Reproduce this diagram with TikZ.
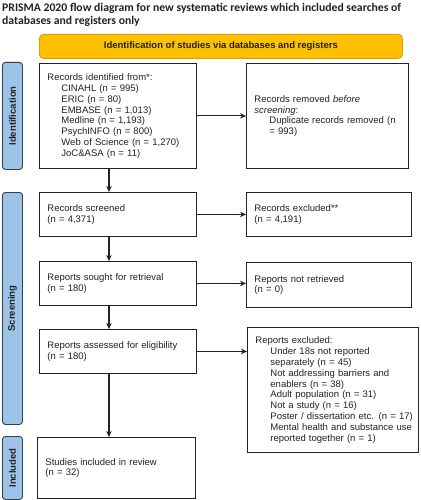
\documentclass[tikz,border=0pt]{standalone}
\usepackage{fontspec}
\setmainfont{Liberation Sans}
\newfontfamily\titlefont{Carlito}
\usetikzlibrary{arrows.meta,positioning}
\definecolor{banner}{HTML}{FFC000}
\definecolor{bannerline}{HTML}{D9A000}
\definecolor{sidefill}{HTML}{9DC3E6}
\definecolor{sideline}{HTML}{2E3F55}
\definecolor{ink}{HTML}{222222}
\tikzset{
  boxnode/.style={draw=ink, line width=0.9pt, fill=white, anchor=north west,
    inner xsep=8pt, inner ysep=0pt, align=left, text=ink,
    font=\fontsize{9.5}{10.8}\selectfont},
  sidebar/.style={draw=sideline, line width=0.9pt, fill=sidefill, rounded corners=3pt,
    anchor=north west, inner sep=0pt, minimum width=20pt},
  sidelabel/.style={rotate=90, font=\bfseries\fontsize{9.5}{11}\selectfont, text=ink},
  arr/.style={draw=ink, line width=1.1pt, -{Stealth[length=6pt,width=5.5pt]}},
}
\begin{document}
\begin{tikzpicture}[x=1pt,y=-1pt]
\useasboundingbox (0,0) rectangle (420,500);
% title
\node[anchor=north west, inner sep=0pt, align=left, text=ink,
  font=\titlefont\bfseries\fontsize{11.7}{12.8}\selectfont] (title) at (2,3.2)
  {PRISMA 2020 flow diagram for new systematic reviews which included searches of\\
   databases and registers only};
% banner
\node[draw=bannerline, fill=banner, line width=0.8pt, rounded corners=4pt, anchor=north west,
  minimum width=363pt, minimum height=24pt, inner sep=0pt, text=ink,
  font=\bfseries\fontsize{9.5}{11}\selectfont] (banner) at (39,34)
  {Identification of studies via databases and registers};
% side bars
\node[sidebar, minimum height=107pt] (sideid) at (2,62) {};
\node[sidelabel] (sideidt) at (sideid.center) {Identification};
\node[sidebar, minimum height=232pt] (sidescr) at (2,192) {};
\node[sidelabel] (sidescrt) at (sidescr.center) {Screening};
\node[sidebar, minimum height=63pt] (sideinc) at (2,436) {};
\node[sidelabel] (sideinct) at (sideinc.center) {Included};
% left column
\node[boxnode, text width=141pt, minimum height=105pt] (id1) at (39,63)
  {Records identified from*:\\
   \hspace*{14pt}CINAHL (n = 995)\\
   \hspace*{14pt}ERIC (n = 80)\\
   \hspace*{14pt}EMBASE (n = 1,013)\\
   \hspace*{14pt}Medline (n = 1,193)\\
   \hspace*{14pt}PsychINFO (n = 800)\\
   \hspace*{14pt}Web of Science (n = 1,270)\\
   \hspace*{14pt}JoC\&ASA (n = 11)};
\node[boxnode, text width=141pt, minimum height=44pt] (scr) at (39,192)
  {Records screened\\(n = 4,371)};
\node[boxnode, text width=141pt, minimum height=44pt] (sought) at (39,261)
  {Reports sought for retrieval\\(n = 180)};
\node[boxnode, text width=141pt, minimum height=44pt] (assess) at (39,329)
  {Reports assessed for eligibility\\(n = 180)};
\node[boxnode, text width=142pt, minimum height=61pt] (incl) at (37,437)
  {Studies included in review\\(n = 32)};
% right column
\node[boxnode, text width=146pt, minimum height=105pt] (rem) at (246,63)
  {Records removed \textit{before}\\
   \textit{screening}:\\
   \hspace*{15pt}\mbox{Duplicate records removed (n}\\
   \hspace*{15pt}= 993)};
\node[boxnode, text width=149pt, minimum height=44pt] (exc) at (246,192)
  {Records excluded**\\(n = 4,191)};
\node[boxnode, text width=149pt, minimum height=45pt] (notret) at (246,262)
  {Reports not retrieved\\(n = 0)};
\node[boxnode, text width=155pt, minimum height=125pt] (repexc) at (247,327)
  {Reports excluded:\\
   \hspace*{15pt}Under 18s not reported\\
   \hspace*{15pt}separately (n = 45)\\
   \hspace*{15pt}Not addressing barriers and\\
   \hspace*{15pt}enablers (n = 38)\\
   \hspace*{15pt}Adult population (n = 31)\\
   \hspace*{15pt}Not a study (n = 16)\\
   \hspace*{15pt}\mbox{Poster / dissertation etc. (n = 17)}\\
   \hspace*{15pt}\mbox{Mental health and substance use}\\
   \hspace*{15pt}reported together (n = 1)};
% connectors
\draw[arr] ([xshift=-9pt]id1.south) -- ([xshift=-9pt]scr.north);
\draw[arr] ([xshift=-9pt]scr.south) -- ([xshift=-9pt]sought.north);
\draw[arr] ([xshift=-9pt]sought.south) -- ([xshift=-9pt]assess.north);
\draw[arr] ([xshift=-9pt]assess.south) -- ([xshift=-9pt]assess.south |- incl.north);
\draw[arr] (id1.east) -- (id1.east -| rem.west);
\draw[arr] (scr.east) -- (scr.east -| exc.west);
\draw[arr] (sought.east) -- (sought.east -| notret.west);
\draw[arr] (assess.east) -- (assess.east -| repexc.west);
\end{tikzpicture}
\end{document}
